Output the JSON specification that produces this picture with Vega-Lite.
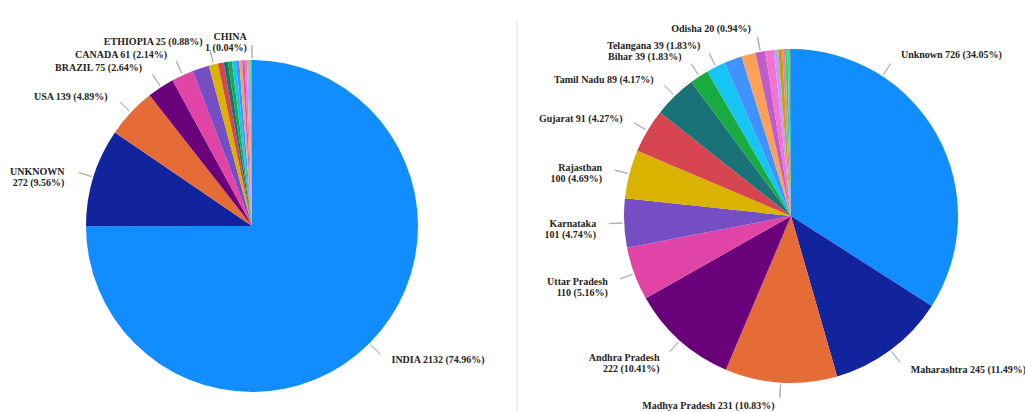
{
  "$schema": "https://vega.github.io/schema/vega-lite/v6.json",
  "padding": {"left": 0, "top": 20, "right": 0, "bottom": 0},
  "background": "white",
  "config": {
    "view": {"stroke": null},
    "text": {"font": "Liberation Serif", "fontWeight": "bold", "fontSize": 10, "color": "#252423"}
  },
  "datasets": {
    "countries": [
      {"name": "INDIA", "value": 2132},
      {"name": "UNKNOWN", "value": 272},
      {"name": "USA", "value": 139},
      {"name": "BRAZIL", "value": 75},
      {"name": "CANADA", "value": 61},
      {"name": "OTHER A", "value": 46},
      {"name": "ETHIOPIA", "value": 25},
      {"name": "OTHER B", "value": 16},
      {"name": "OTHER C", "value": 12},
      {"name": "OTHER D", "value": 11},
      {"name": "OTHER E", "value": 11},
      {"name": "OTHER F", "value": 9},
      {"name": "OTHER G", "value": 8},
      {"name": "OTHER H", "value": 7},
      {"name": "OTHER I", "value": 6},
      {"name": "OTHER J", "value": 4},
      {"name": "OTHER K", "value": 3},
      {"name": "OTHER L", "value": 2},
      {"name": "OTHER M", "value": 2},
      {"name": "OTHER N", "value": 1},
      {"name": "OTHER O", "value": 1},
      {"name": "CHINA", "value": 1}
    ],
    "states": [
      {"name": "Unknown", "value": 726},
      {"name": "Maharashtra", "value": 245},
      {"name": "Madhya Pradesh", "value": 231},
      {"name": "Andhra Pradesh", "value": 222},
      {"name": "Uttar Pradesh", "value": 110},
      {"name": "Karnataka", "value": 101},
      {"name": "Rajasthan", "value": 100},
      {"name": "Gujarat", "value": 91},
      {"name": "Tamil Nadu", "value": 89},
      {"name": "Bihar", "value": 39},
      {"name": "Telangana", "value": 39},
      {"name": "Other 1", "value": 37},
      {"name": "Other 2", "value": 29},
      {"name": "Odisha", "value": 20},
      {"name": "Other 3", "value": 18},
      {"name": "Other 4", "value": 9},
      {"name": "Other 5", "value": 8},
      {"name": "Other 6", "value": 6},
      {"name": "Other 7", "value": 5},
      {"name": "Other 8", "value": 4},
      {"name": "Other 9", "value": 2},
      {"name": "Other 10", "value": 1}
    ]
  },
  "bounds": "flush",
  "spacing": 12,
  "hconcat": [
    {
      "width": 504,
      "height": 412,
      "data": {"name": "countries"},
      "transform": [
        {"window": [{"op": "row_number", "as": "i"}, {"op": "sum", "field": "value", "as": "cum"}], "frame": [null, 0]},
        {"joinaggregate": [{"op": "sum", "field": "value", "as": "total"}]},
        {"calculate": "datum.cum - datum.value / 2", "as": "la"},
        {"calculate": "datum.la + datum.total * 0.0004", "as": "la2"},
        {"calculate": "datum.name + (indexof(['UNKNOWN', 'CHINA'], datum.name) >= 0 ? '\\n' : ' ') + datum.value + ' (' + format(datum.value / datum.total * 100, '.2f') + '%)'", "as": "label"}
      ],
      "layer": [
        {
          "mark": {"type": "arc", "outerRadius": 166},
          "encoding": {
            "theta": {"field": "value", "type": "quantitative", "stack": true},
            "order": {"field": "i", "type": "quantitative"},
            "color": {
              "field": "i", "type": "ordinal", "legend": null,
              "scale": {"range": ["#118DFF", "#12239E", "#E66C37", "#6B007B", "#E044A7", "#744EC2", "#D9B300", "#D64550", "#197278", "#1AAB40", "#15C6F4", "#4092FF", "#FFA058", "#BE5DC9", "#F472D0", "#B5A1FF", "#C4A200", "#FF8080", "#00DBBC", "#5BD667", "#0091D5", "#4668C5", "#FF6300", "#99008A", "#EC008C", "#533285"]}
            }
          }
        },
        {
          "transform": [{"filter": {"field": "name", "oneOf": ["INDIA", "UNKNOWN", "USA", "BRAZIL", "CANADA", "ETHIOPIA", "CHINA"]}}],
          "mark": {"type": "arc", "innerRadius": 168, "outerRadius": 181, "stroke": "#a6a6a6", "strokeWidth": 0.8, "fill": null},
          "encoding": {
            "theta": {"field": "la", "type": "quantitative", "stack": null},
            "theta2": {"field": "la2"}
          }
        },
        {
          "transform": [
            {"filter": {"field": "name", "oneOf": ["INDIA", "UNKNOWN", "USA", "BRAZIL", "CANADA", "ETHIOPIA", "CHINA"]}},
            {"filter": "datum.la > datum.total / 2"}
          ],
          "mark": {"type": "text", "radius": 191, "align": "right", "dx": -5, "dy": 2, "baseline": "middle", "lineBreak": "\n", "lineHeight": 11, "font": "Liberation Serif", "fontWeight": "bold", "fontSize": 10, "fill": "#252423"},
          "encoding": {
            "theta": {"field": "la", "type": "quantitative", "stack": null},
            "text": {"field": "label"}
          }
        },
        {
          "transform": [
            {"filter": {"field": "name", "oneOf": ["INDIA", "UNKNOWN", "USA", "BRAZIL", "CANADA", "ETHIOPIA", "CHINA"]}},
            {"filter": "datum.la <= datum.total / 2"}
          ],
          "mark": {"type": "text", "radius": 190, "align": "left", "dx": 5, "baseline": "middle", "lineBreak": "\n", "lineHeight": 11, "font": "Liberation Serif", "fontWeight": "bold", "fontSize": 10, "fill": "#252423"},
          "encoding": {
            "theta": {"field": "la", "type": "quantitative", "stack": null},
            "text": {"field": "label"}
          }
        }
      ]
    },
    {
      "bounds": "flush",
      "spacing": 39,
      "hconcat": [
        {
          "width": 2,
          "height": 392,
          "view": {"fill": "#efefef", "stroke": null},
          "data": {"values": [{"k": 1}]},
          "mark": {"type": "text"},
          "encoding": {"text": {"value": ""}}
        },
        {
          "width": 468,
          "height": 392,
          "data": {"name": "states"},
          "transform": [
            {"window": [{"op": "row_number", "as": "i"}, {"op": "sum", "field": "value", "as": "cum"}], "frame": [null, 0]},
            {"joinaggregate": [{"op": "sum", "field": "value", "as": "total"}]},
            {"calculate": "datum.cum - datum.value / 2", "as": "mid"},
            {"calculate": "datum.mid / datum.total < 0.25 ? min(datum.mid, datum.total * 0.092) : datum.mid", "as": "la"},
            {"calculate": "datum.la + datum.total * 0.0004", "as": "la2"},
            {"calculate": "datum.name + (indexof(['Andhra Pradesh', 'Uttar Pradesh', 'Karnataka', 'Rajasthan'], datum.name) >= 0 ? '\\n' : ' ') + datum.value + ' (' + format(datum.value / datum.total * 100, '.2f') + '%)'", "as": "label"}
          ],
          "layer": [
            {
              "mark": {"type": "arc", "outerRadius": 167},
              "encoding": {
                "theta": {"field": "value", "type": "quantitative", "stack": true},
                "order": {"field": "i", "type": "quantitative"},
                "color": {
                  "field": "i", "type": "ordinal", "legend": null,
                  "scale": {"range": ["#118DFF", "#12239E", "#E66C37", "#6B007B", "#E044A7", "#744EC2", "#D9B300", "#D64550", "#197278", "#1AAB40", "#15C6F4", "#4092FF", "#FFA058", "#BE5DC9", "#F472D0", "#B5A1FF", "#C4A200", "#FF8080", "#00DBBC", "#5BD667", "#0091D5", "#4668C5", "#FF6300", "#99008A", "#EC008C", "#533285"]}
                }
              }
            },
            {
              "transform": [{"filter": {"field": "name", "oneOf": ["Unknown", "Maharashtra", "Madhya Pradesh", "Andhra Pradesh", "Uttar Pradesh", "Karnataka", "Rajasthan", "Gujarat", "Tamil Nadu", "Bihar", "Telangana", "Odisha"]}}],
              "mark": {"type": "arc", "innerRadius": 169, "outerRadius": 182, "stroke": "#a6a6a6", "strokeWidth": 0.8, "fill": null},
              "encoding": {
                "theta": {"field": "la", "type": "quantitative", "stack": null},
                "theta2": {"field": "la2"}
              }
            },
            {
              "transform": [
                {"filter": {"field": "name", "oneOf": ["Unknown", "Maharashtra", "Madhya Pradesh", "Andhra Pradesh", "Uttar Pradesh", "Karnataka", "Rajasthan", "Gujarat", "Tamil Nadu", "Bihar", "Telangana", "Odisha"]}},
                {"filter": "datum.la > datum.total / 2"}
              ],
              "mark": {"type": "text", "radius": 190, "align": "right", "dx": -5, "baseline": "middle", "lineBreak": "\n", "lineHeight": 11, "font": "Liberation Serif", "fontWeight": "bold", "fontSize": 10, "fill": "#252423"},
              "encoding": {
                "theta": {"field": "la", "type": "quantitative", "stack": null},
                "text": {"field": "label"}
              }
            },
            {
              "transform": [
                {"filter": {"field": "name", "oneOf": ["Unknown", "Maharashtra", "Madhya Pradesh", "Andhra Pradesh", "Uttar Pradesh", "Karnataka", "Rajasthan", "Gujarat", "Tamil Nadu", "Bihar", "Telangana", "Odisha"]}},
                {"filter": "datum.la <= datum.total / 2"}
              ],
              "mark": {"type": "text", "radius": 192, "align": "left", "dx": 5, "baseline": "middle", "lineBreak": "\n", "lineHeight": 11, "font": "Liberation Serif", "fontWeight": "bold", "fontSize": 10, "fill": "#252423"},
              "encoding": {
                "theta": {"field": "la", "type": "quantitative", "stack": null},
                "text": {"field": "label"}
              }
            }
          ]
        }
      ]
    }
  ]
}
